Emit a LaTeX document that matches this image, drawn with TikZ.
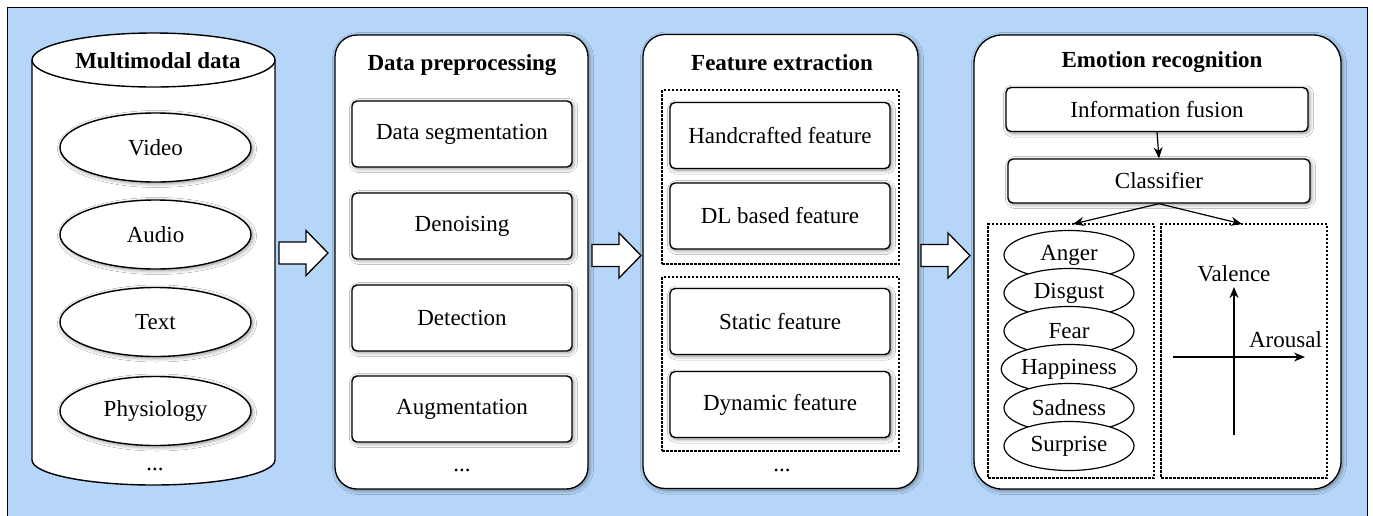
\documentclass[tikz,border=0pt]{standalone}
\usepackage{fontspec}
\setmainfont{LiberationSerif}[Extension=.ttf, UprightFont=*-Regular,
  BoldFont=*-Bold, ItalicFont=*-Italic, BoldItalicFont=*-BoldItalic]
\usetikzlibrary{shapes.geometric,shadows.blur,arrows.meta}
\definecolor{bgblue}{RGB}{181,214,248}

\tikzset{
  txt/.style={font=\rmfamily\fontsize{23}{27}\selectfont},
  title/.style={font=\rmfamily\fontsize{23}{27}\selectfont\bfseries, inner sep=0pt},
  softshadow/.style={blur shadow={shadow xshift=1.5pt, shadow yshift=-1.5pt,
      shadow blur radius=4pt, shadow opacity=45, shadow blur steps=8}},
  panel/.style={draw, line width=1.3pt, fill=white, rounded corners=22pt,
      inner sep=0pt, softshadow},
  item/.style={txt, draw, line width=1.4pt, fill=white, rounded corners=5pt,
      minimum width=220pt, minimum height=66pt, inner sep=0pt, softshadow},
  bar/.style={txt, draw, line width=1.4pt, fill=white, rounded corners=5pt,
      minimum width=302pt, minimum height=44pt, inner sep=0pt, softshadow},
  oval/.style={txt, ellipse, draw, line width=1.4pt, fill=white,
      minimum width=191pt, minimum height=69pt, inner sep=0pt, softshadow},
  emo/.style={txt, ellipse, draw, line width=1.2pt, fill=white,
      minimum width=130pt, minimum height=49pt, inner sep=0pt},
  group/.style={draw, line width=1.3pt, dash pattern=on 2.5pt off 1.5pt,
      inner sep=0pt},
  flow/.style={draw, fill=white, line width=1.3pt, line join=miter},
  link/.style={-{Stealth[length=11pt,width=9pt]}, line width=1.2pt},
  more/.style={txt, anchor=base, inner sep=0pt},
  pics/bigarrow/.style={code={
      \draw[flow] (0,-11) -- (27,-11) -- (27,-22.5) -- (49,0)
        -- (27,22.5) -- (27,11) -- (0,11) -- cycle;}}
}

\begin{document}
\begin{tikzpicture}[x=1pt,y=-1pt]
\useasboundingbox (0,0) rectangle (1373,515);
\fill[white] (0,0) rectangle (1373,515);
\draw[fill=bgblue, line width=1pt] (7,7) rectangle (1367,525);

% ---------- multimodal data (cylinder) ----------
\draw[line width=1.4pt, fill=white] (32,60) -- (32,460)
  arc[start angle=180, end angle=360, x radius=121.5pt, y radius=25pt]
  -- (275,60);
\draw[line width=1.4pt, fill=white] (153.5,60) ellipse[x radius=121.5pt, y radius=27pt];
\node[title] (t1) at (158,61) {Multimodal data};
\node[oval] (video) at (155.5,147.5) {Video};
\node[oval] (audio) at (155.5,234.5) {Audio};
\node[oval] (text)  at (155.5,322) {Text};
\node[oval] (physio) at (155.5,411) {Physiology};
\node[more] (m1) at (155,470) {...};

\pic at (279,253) {bigarrow};

% ---------- data preprocessing ----------
\node[panel, minimum width=253pt, minimum height=454pt] (p2) at (461.5,262) {};
\node[title] (t2) at (462,65) {Data preprocessing};
\node[item] (seg) at (462,134) {Data segmentation};
\node[item] (den) at (462,226) {Denoising};
\node[item] (det) at (462,318) {Detection};
\node[item] (aug) at (462,409) {Augmentation};
\node[more] (m2) at (462,471) {...};

\pic at (592,255.5) {bigarrow};

% ---------- feature extraction ----------
\node[panel, minimum width=275pt, minimum height=454pt] (p3) at (780.5,261.5) {};
\node[title] (t3) at (782,63) {Feature extraction};
\node[group, minimum width=237pt, minimum height=174pt] (g1) at (780.5,177) {};
\node[group, minimum width=237pt, minimum height=174pt] (g2) at (780.5,364) {};
\node[item] (hand) at (780,135.5) {Handcrafted feature};
\node[item] (dl)   at (780,216) {DL based feature};
\node[item] (stat) at (780,321.5) {Static feature};
\node[item] (dyn)  at (780,404.5) {Dynamic feature};
\node[more] (m3) at (782,471) {...};

\pic at (921,255.5) {bigarrow};

% ---------- emotion recognition ----------
\node[panel, rounded corners=28pt, minimum width=367pt, minimum height=454pt] (p4) at (1157.5,262) {};
\node[title] (t4) at (1162,62) {Emotion recognition};
\node[bar] (fus) at (1157,109.5) {Information fusion};
\node[bar] (cls) at (1159,181) {Classifier};
\draw[link] (fus.south) -- (cls.north);

\node[group, minimum width=166pt, minimum height=254pt] (g3) at (1071,351) {};
\node[group, minimum width=166pt, minimum height=254pt] (g4) at (1244,351) {};
\coordinate (cat) at (1073,224);
\coordinate (dim) at (1242,224);
\draw[link] (cls.south) -- (cat);
\draw[link] (cls.south) -- (dim);

\node[emo] (anger) at (1069,255) {Anger};
\node[emo] (disg)  at (1069,293) {Disgust};
\node[emo] (fear)  at (1069,331) {Fear};
\node[emo] (happy) at (1069,369) {Happiness};
\node[emo] (sad)   at (1069,408) {Sadness};
\node[emo] (surp)  at (1069,446) {Surprise};

\coordinate (vlo) at (1234,435);
\coordinate (vhi) at (1234,287);
\coordinate (alo) at (1173,357);
\coordinate (ahi) at (1305,357);
\draw[link] (vlo) -- (vhi);
\draw[link] (alo) -- (ahi);
\node[txt, inner sep=0pt] (val) at (1234,274) {Valence};
\node[txt, inner sep=0pt] (aro) at (1285.5,340) {Arousal};
\end{tikzpicture}
\end{document}
